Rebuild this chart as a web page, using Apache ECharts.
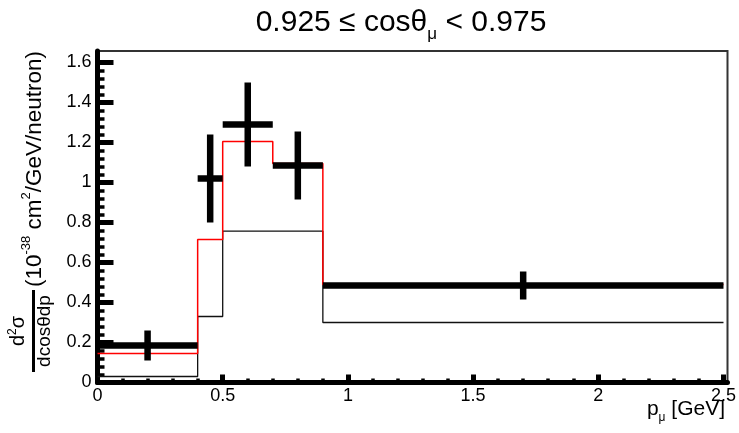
<!DOCTYPE html>
<html>
<head>
<meta charset="utf-8">
<script src="https://cdn.jsdelivr.net/npm/echarts@6/dist/echarts.min.js"></script>
<style>
  html, body { margin: 0; padding: 0; background: #fff; }
  #chart { width: 739px; height: 433px; }
</style>
</head>
<body>
<div id="chart"></div>
<script>
// Bin edges of the muon momentum histogram (GeV)
const binEdges = [0, 0.4, 0.5, 0.7, 0.9, 2.5];
// Measured cross section per bin, its uncertainty and the point position
const dataCenters = [0.2, 0.45, 0.6, 0.8, 1.7];
const dataValues = [0.185, 1.02, 1.29, 1.085, 0.485];
const dataErrors = [0.075, 0.22, 0.21, 0.17, 0.07];
// Two model predictions drawn as step histograms
const redModel = [0.145, 0.715, 1.205, 1.095, 0.49];
const blackModel = [0.03, 0.33, 0.757, 0.757, 0.30];
// Axis ranges and tick spacing
const xRange = [0, 2.5];
const xStep = 0.5;
const yTickRange = [0, 1.6];
const yFrameMax = 1.6575;
const yStep = 0.2;

const FONT = '"Liberation Sans", Arial, Helvetica, sans-serif';

function stepPoints(values) {
  const pts = [];
  values.forEach((v, i) => {
    pts.push([binEdges[i], v]);
    pts.push([binEdges[i + 1], v]);
  });
  return pts;
}

const chart = echarts.init(document.getElementById('chart'), null, { renderer: 'canvas' });

const gridPos = { left: 97.5, right: 11.5, bottom: 50.5 };

chart.setOption({
  animation: false,
  backgroundColor: '#fff',
  grid: [
    // outer frame
    Object.assign({ top: 51, show: true, borderColor: '#333', borderWidth: 2, backgroundColor: 'transparent' }, gridPos),
    // plotting area with ticks
    Object.assign({ top: 62.5, show: false }, gridPos)
  ],
  xAxis: [
    {
      gridIndex: 0, type: 'value', min: xRange[0], max: xRange[1],
      axisLine: { show: true, lineStyle: { color: '#000', width: 5 } },
      axisTick: { show: false }, axisLabel: { show: false }, splitLine: { show: false }
    },
    {
      gridIndex: 1, type: 'value', min: xRange[0], max: xRange[1], interval: xStep,
      axisLine: { show: false },
      axisTick: { show: true, inside: true, length: 8, lineStyle: { color: '#000', width: 5 } },
      minorTick: { show: true, splitNumber: 5, length: 4, lineStyle: { color: '#000', width: 3.5 } },
      axisLabel: { color: '#000', fontSize: 18, fontFamily: FONT, margin: 5 },
      splitLine: { show: false }
    }
  ],
  yAxis: [
    {
      gridIndex: 0, type: 'value', min: 0, max: yFrameMax,
      axisLine: { show: true, lineStyle: { color: '#000', width: 5 } },
      axisTick: { show: false }, axisLabel: { show: false }, splitLine: { show: false }
    },
    {
      gridIndex: 1, type: 'value', min: yTickRange[0], max: yTickRange[1], interval: yStep,
      axisLine: { show: false },
      axisTick: { show: true, inside: true, length: 16, lineStyle: { color: '#000', width: 5 } },
      minorTick: { show: true, splitNumber: 5, length: 7, lineStyle: { color: '#000', width: 3.5 } },
      axisLabel: { color: '#000', fontSize: 18, fontFamily: FONT, margin: 6 },
      splitLine: { show: false }
    }
  ],
  graphic: [
    {
      type: 'text', x: 401, y: 23, silent: true,
      style: {
        text: '0.925 ≤ cosθ{sub|μ} < 0.975',
        fontSize: 30, fontFamily: FONT, fill: '#000',
        align: 'center', verticalAlign: 'middle',
        rich: { sub: { fontSize: 17, fontFamily: FONT, padding: [22, 0, 0, 0] } }
      }
    },
    {
      type: 'text', x: 725, y: 409, silent: true,
      style: {
        text: 'p{sub|μ} [GeV]',
        fontSize: 21, fontFamily: FONT, fill: '#000',
        align: 'right', verticalAlign: 'middle',
        rich: { sub: { fontSize: 12, fontFamily: FONT, padding: [18, 0, 0, 0] } }
      }
    },
    {
      type: 'group', x: 33.5, y: 372, rotation: Math.PI / 2, silent: true,
      children: [
        { type: 'line', shape: { x1: 0, y1: 0, x2: 82, y2: 0 }, style: { stroke: '#000', lineWidth: 3 } },
        {
          type: 'text', x: 41, y: -3,
          style: {
            text: 'd{sup|2}σ', fontSize: 20, fontFamily: FONT, fill: '#000',
            align: 'center', verticalAlign: 'bottom',
            rich: { sup: { fontSize: 12, fontFamily: FONT, padding: [0, 0, 12, 0] } }
          }
        },
        {
          type: 'text', x: 41, y: 2,
          style: {
            text: 'dcosθdp', fontSize: 19, fontFamily: FONT, fill: '#000',
            align: 'center', verticalAlign: 'top'
          }
        },
        {
          type: 'text', x: 85, y: 1,
          style: {
            text: '(10{sup|-38} cm{sup|2}/GeV/neutron)', fontSize: 22.5, fontFamily: FONT, fill: '#000',
            align: 'left', verticalAlign: 'middle',
            rich: { sup: { fontSize: 13, fontFamily: FONT, padding: [0, 0, 17, 0] } }
          }
        }
      ]
    }
  ],
  series: [
    {
      type: 'line', xAxisIndex: 1, yAxisIndex: 1, data: stepPoints(blackModel),
      symbol: 'none', silent: true, clip: false, z: 2,
      lineStyle: { color: '#111', width: 1.3 }
    },
    {
      type: 'line', xAxisIndex: 1, yAxisIndex: 1, data: stepPoints(redModel),
      symbol: 'none', silent: true, clip: false, z: 3,
      lineStyle: { color: '#ff0000', width: 1.5 }
    },
    {
      type: 'custom', xAxisIndex: 1, yAxisIndex: 1, silent: true, clip: false, z: 5,
      data: dataValues.map((v, i) => [dataCenters[i], v, dataErrors[i], binEdges[i], binEdges[i + 1]]),
      encode: { x: 0, y: 1 },
      renderItem: function (params, api) {
        const xc = api.value(0), y = api.value(1), e = api.value(2);
        const lo = api.value(3), hi = api.value(4);
        const pL = api.coord([lo, y]);
        const pR = api.coord([hi, y]);
        const pT = api.coord([xc, y + e]);
        const pB = api.coord([xc, y - e]);
        return {
          type: 'group',
          children: [
            { type: 'line', shape: { x1: pL[0], y1: pL[1], x2: pR[0], y2: pR[1] }, style: { stroke: '#000', lineWidth: 6.5 } },
            { type: 'line', shape: { x1: pT[0], y1: pT[1], x2: pB[0], y2: pB[1] }, style: { stroke: '#000', lineWidth: 6.5 } }
          ]
        };
      }
    }
  ]
});
</script>
</body>
</html>
